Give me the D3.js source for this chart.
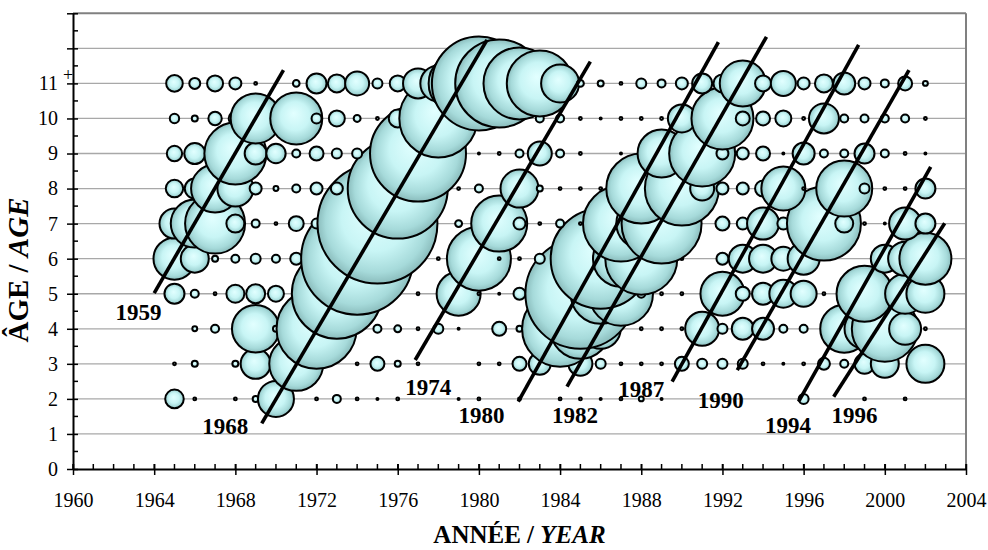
<!DOCTYPE html>
<html>
<head>
<meta charset="utf-8">
<script src="https://cdn.jsdelivr.net/npm/d3@7/dist/d3.min.js"></script>
<style>
body { margin: 0; background: #fff; }
text { font-family: "Liberation Serif", "Times New Roman", serif; }
</style>
</head>
<body>
<div id="chart"></div>
<script>
// Years and ages of the bubble grid
const years = [1965, 1966, 1967, 1968, 1969, 1970, 1971, 1972, 1973, 1974,
               1975, 1976, 1977, 1978, 1979, 1980, 1981, 1982, 1983, 1984,
               1985, 1986, 1987, 1988, 1989, 1990, 1991, 1992, 1993, 1994,
               1995, 1996, 1997, 1998, 1999, 2000, 2001, 2002];
const ages = [2, 3, 4, 5, 6, 7, 8, 9, 10, 11];

// Abundance index per age, one value per year (0 = no bubble)
const age2  = [86, 2, 0, 2, 9, 324, 0, 2, 16, 2, 1, 2, 0, 0, 1, 2, 0, 2, 0, 2, 2, 1, 2, 6, 1, 0, 0, 0, 0, 0, 0, 25, 0, 0, 2, 0, 2, 0];
const age3  = [2, 9, 0, 9, 225, 25, 729, 0, 0, 2, 49, 9, 2, 0, 0, 2, 2, 49, 121, 0, 144, 25, 2, 2, 2, 49, 25, 25, 25, 2, 1, 2, 36, 16, 100, 196, 0, 361];
const age4  = [0, 6, 16, 0, 562, 9, 0, 1600, 0, 0, 16, 12, 2, 25, 1, 0, 49, 9, 0, 1444, 900, 400, 0, 2, 2, 2, 289, 25, 121, 121, 16, 16, 0, 576, 400, 1089, 256, 2];
const age5  = [100, 16, 2, 81, 90, 64, 0, 0, 2025, 0, 0, 0, 2, 0, 484, 2, 1, 36, 0, 0, 3025, 900, 1024, 16, 2, 2, 0, 484, 49, 121, 196, 169, 2, 0, 784, 0, 400, 361];
const age6  = [441, 196, 9, 16, 25, 16, 36, 0, 0, 3136, 0, 0, 0, 2, 0, 1024, 2, 2, 25, 0, 0, 2500, 784, 1296, 0, 2, 0, 36, 196, 196, 144, 256, 0, 0, 0, 196, 289, 676];
const age7  = [225, 576, 900, 81, 16, 2, 56, 25, 0, 0, 3600, 0, 0, 0, 12, 0, 784, 36, 2, 16, 2, 0, 1444, 625, 1600, 0, 0, 49, 36, 256, 36, 0, 1369, 81, 2, 1, 256, 100];
const age8  = [76, 100, 576, 324, 36, 6, 16, 36, 36, 0, 0, 2500, 0, 0, 2, 16, 0, 361, 9, 2, 2, 2, 0, 1225, 0, 1369, 144, 36, 36, 64, 484, 2, 0, 784, 25, 2, 2, 100];
const age9  = [59, 110, 0, 961, 121, 94, 16, 49, 25, 25, 0, 0, 2304, 0, 0, 1, 2, 16, 144, 16, 2, 0, 1, 0, 576, 0, 1089, 36, 36, 49, 1, 121, 16, 16, 100, 16, 2, 1];
const age10 = [22, 9, 45, 45, 625, 0, 676, 25, 64, 12, 2, 81, 0, 1521, 0, 0, 0, 0, 16, 16, 2, 1, 2, 2, 2, 196, 0, 961, 49, 49, 64, 2, 225, 16, 16, 16, 16, 2];
const age11 = [69, 30, 64, 36, 2, 0, 11, 100, 81, 144, 25, 64, 225, 324, 900, 2209, 1936, 1296, 1089, 361, 12, 9, 2, 25, 16, 36, 100, 81, 529, 64, 156, 36, 81, 121, 36, 16, 49, 6];
const ageRows = [age2, age3, age4, age5, age6, age7, age8, age9, age10, age11];

// Cohort lines: label, start (year, age), end (year, age), label spot (year, age)
const cohorts    = ["1959", "1968", "1974", "1980", "1982", "1987", "1990", "1994", "1996"];
const lineStart  = [[1964.0, 5.02], [1969.3, 1.3], [1976.86, 3.11], [1981.94, 1.92], [1984.34, 2.35], [1989.52, 2.49], [1992.73, 2.82], [1995.75, 1.92], [1997.48, 2.06]];
const lineEnd    = [[1970.37, 11.38], [1980.4, 12.24], [1985.49, 11.62], [1991.8, 12.18], [1994.17, 12.33], [1998.71, 12.1], [2001.19, 11.38], [2002.26, 8.62], [2002.95, 7.01]];
const labelSpot  = [[1963.23, 4.25], [1967.5, 1.0], [1977.5, 2.1], [1980.13, 1.3], [1984.73, 1.3], [1988.0, 2.06], [1991.92, 1.73], [1995.23, 1.02], [1998.5, 1.3]];

const xTicks = [1960, 1964, 1968, 1972, 1976, 1980, 1984, 1988, 1992, 1996, 2000, 2004];
const yTickLabels = [0, 1, 2, 3, 4, 5, 6, 7, 8, 9, 10, 11];

const w = 988;
const h = 550;

const svg = d3.select("#chart")
    .append("svg")
    .attr("width", w)
    .attr("height", h);

// bubble shading
const grad = svg.append("defs").append("radialGradient")
    .attr("id", "bub")
    .attr("cx", "50%").attr("cy", "50%").attr("r", "50%")
    .attr("fx", "45%").attr("fy", "40%");
grad.append("stop").attr("offset", "0%").attr("stop-color", "#e2ffff");
grad.append("stop").attr("offset", "55%").attr("stop-color", "#c8f5f5");
grad.append("stop").attr("offset", "85%").attr("stop-color", "#a6dada");
grad.append("stop").attr("offset", "100%").attr("stop-color", "#8abcbc");

const x = d3.scaleLinear().domain([1960, 2004]).range([73, 966]);
const y = d3.scaleLinear().domain([0, 13]).range([469, 13.3]);
const r = d3.scaleSqrt().domain([0, 3600]).range([0, 60]);

// gridlines
const gridVals = d3.range(1, 14);
svg.selectAll("line.grid")
    .data(gridVals)
    .enter()
    .append("line")
    .attr("x1", x(1960))
    .attr("x2", x(2004))
    .attr("y1", d => y(d))
    .attr("y2", d => y(d))
    .attr("stroke", d => d == 13 ? "#808080" : "#a8a8a8")
    .attr("stroke-width", d => d == 13 ? 2 : 1.3);

// right border
svg.append("line")
    .attr("x1", x(2004)).attr("x2", x(2004))
    .attr("y1", y(13)).attr("y2", y(0))
    .attr("stroke", "#808080")
    .attr("stroke-width", 2);

// bubbles, drawn age by age so older ages sit on top
let bubbles = [];
ageRows.forEach(function (row, i) {
    row.forEach(function (v, j) {
        if (v > 0) bubbles.push({ year: years[j], age: ages[i], v: v });
    });
});

svg.selectAll("circle.bub")
    .data(bubbles)
    .enter()
    .append("circle")
    .attr("cx", d => x(d.year))
    .attr("cy", d => y(d.age))
    .attr("r", d => r(d.v))
    .attr("fill", "url(#bub)")
    .attr("stroke", "#000")
    .attr("stroke-width", 2);

// cohort lines
svg.selectAll("line.cohort")
    .data(cohorts)
    .enter()
    .append("line")
    .attr("x1", (d, i) => x(lineStart[i][0]))
    .attr("y1", (d, i) => y(lineStart[i][1]))
    .attr("x2", (d, i) => x(lineEnd[i][0]))
    .attr("y2", (d, i) => y(lineEnd[i][1]))
    .attr("stroke", "#000")
    .attr("stroke-width", 3.6);

svg.selectAll("text.cohort")
    .data(cohorts)
    .enter()
    .append("text")
    .attr("x", (d, i) => x(labelSpot[i][0]))
    .attr("y", (d, i) => y(labelSpot[i][1]))
    .attr("text-anchor", "middle")
    .attr("font-size", 23)
    .attr("font-weight", "bold")
    .text(d => d);

// x axis
const xAxis = svg.append("g")
    .attr("transform", "translate(0," + y(0) + ")")
    .call(d3.axisBottom(x).tickValues(xTicks).tickSizeOuter(0).tickFormat(d3.format("d")));
xAxis.selectAll(".tick line").attr("y1", -5).attr("y2", 6).attr("stroke-width", 1.5);
xAxis.selectAll(".tick text").attr("y", 24).attr("font-size", 20).attr("fill", "#000")
    .style("font-family", '"Liberation Serif", "Times New Roman", serif');
xAxis.select(".domain").attr("stroke-width", 2);
xAxis.selectAll("line.minor")
    .data(d3.range(1960, 2005))
    .enter()
    .append("line")
    .attr("x1", d => x(d)).attr("x2", d => x(d))
    .attr("y1", 0).attr("y2", -5)
    .attr("stroke", "#000")
    .attr("stroke-width", 1.5);

// y axis
const yAxis = svg.append("g")
    .attr("transform", "translate(" + x(1960) + ",0)")
    .call(d3.axisLeft(y).tickValues(d3.range(0, 14)).tickSizeOuter(0)
        .tickFormat(d => yTickLabels.includes(d) ? d : ""));
yAxis.selectAll(".tick line").attr("x1", 5).attr("x2", -6).attr("stroke-width", 1.5);
yAxis.selectAll(".tick text").attr("x", -15).attr("font-size", 20).attr("fill", "#000")
    .style("font-family", '"Liberation Serif", "Times New Roman", serif');
yAxis.select(".domain").attr("stroke-width", 2);
yAxis.selectAll("line.minor")
    .data(d3.range(0.5, 13, 1))
    .enter()
    .append("line")
    .attr("x1", 0).attr("x2", 5)
    .attr("y1", d => y(d)).attr("y2", d => y(d))
    .attr("stroke", "#000")
    .attr("stroke-width", 1.5);

// plus sign of the 11+ group
svg.append("text")
    .attr("x", 68)
    .attr("y", y(11) - 2)
    .attr("text-anchor", "middle")
    .attr("font-size", 18)
    .text("+");

// axis titles
const xt = svg.append("text")
    .attr("x", (x(1960) + x(2004)) / 2)
    .attr("y", 543)
    .attr("text-anchor", "middle")
    .attr("font-size", 25)
    .attr("font-weight", "bold");
xt.append("tspan").text("ANNÉE / ");
xt.append("tspan").attr("font-style", "italic").text("YEAR");

const yt = svg.append("text")
    .attr("transform", "translate(28," + 270 + ") rotate(-90)")
    .attr("text-anchor", "middle")
    .attr("font-size", 29)
    .attr("font-weight", "bold");
yt.append("tspan").text("ÂGE / ");
yt.append("tspan").attr("font-style", "italic").text("AGE");
</script>
</body>
</html>
